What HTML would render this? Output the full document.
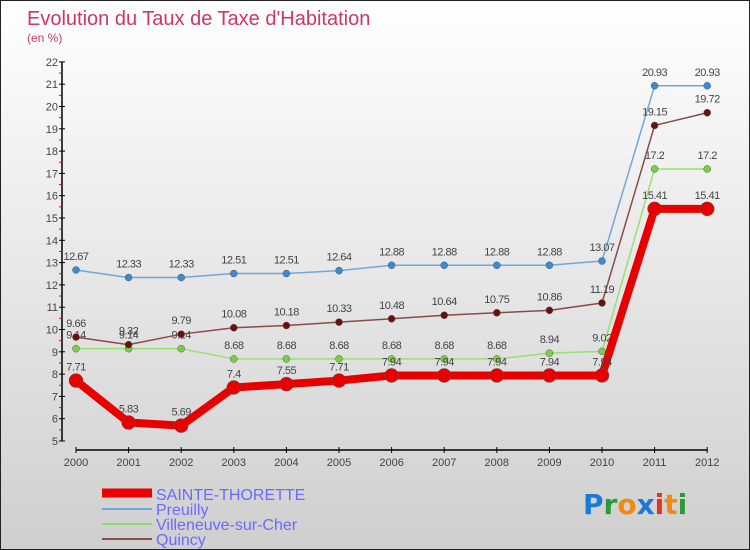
<!DOCTYPE html>
<html><head><meta charset="utf-8"><style>
body{margin:0}
#c{width:748px;height:548px;border:1px solid #222;background:linear-gradient(#fff,#cfcfcf);position:relative;font-family:"Liberation Sans",sans-serif;overflow:hidden}
</style></head><body>
<div id="c">
<svg id="s" width="748" height="548">
<text x="26" y="24" font-size="20" fill="#c8386a">Evolution du Taux de Taxe d'Habitation</text>
<text x="26" y="41" font-size="12" fill="#c8386a">(en %)</text>
<g id="axes"></g><g id="series"></g>
<g>
<line x1="101" y1="492" x2="151" y2="492" stroke="#e00" stroke-width="9"/>
<text x="155" y="499" font-size="16" fill="#6a6aff">SAINTE-THORETTE</text>
<line x1="101" y1="508" x2="151" y2="508" stroke="#6fa8d8" stroke-width="2"/>
<text x="155" y="514" font-size="16" fill="#6a6aff">Preuilly</text>
<line x1="101" y1="523" x2="151" y2="523" stroke="#8fd870" stroke-width="2"/>
<text x="155" y="529" font-size="16" fill="#6a6aff">Villeneuve-sur-Cher</text>
<line x1="101" y1="538" x2="151" y2="538" stroke="#8a5050" stroke-width="2"/>
<text x="155" y="544" font-size="16" fill="#6a6aff">Quincy</text>
</g>
<text x="582" y="513" font-size="28" font-weight="bold" font-family="'DejaVu Sans',sans-serif"><tspan fill="#1a7ad8">P</tspan><tspan fill="#2a9a3a">r</tspan><tspan fill="#f08a10">o</tspan><tspan fill="#1a7ad8">x</tspan><tspan fill="#e83020">i</tspan><tspan fill="#f08a10">t</tspan><tspan fill="#2a9a3a">i</tspan></text>
</svg>
</div>
<script>
const years=[2000,2001,2002,2003,2004,2005,2006,2007,2008,2009,2010,2011,2012];
const yTicks=[5,6,7,8,9,10,11,12,13,14,15,16,17,18,19,20,21,22];
const sainte=[7.71,5.83,5.69,7.4,7.55,7.71,7.94,7.94,7.94,7.94,7.94,15.41,15.41];
const preuilly=[12.67,12.33,12.33,12.51,12.51,12.64,12.88,12.88,12.88,12.88,13.07,20.93,20.93];
const villeneuve=[9.14,9.14,9.14,8.68,8.68,8.68,8.68,8.68,8.68,8.94,9.02,17.2,17.2];
const quincy=[9.66,9.32,9.79,10.08,10.18,10.33,10.48,10.64,10.75,10.86,11.19,19.15,19.72];
const NS="http://www.w3.org/2000/svg";
function X(i){return 75+i*52.6;}
function Y(v){return 440-(v-5)*22.3;}
function mk(t,a,p){const e=document.createElementNS(NS,t);for(const k in a)e.setAttribute(k,a[k]);p.appendChild(e);return e;}
const ax=document.getElementById('axes');
let e=mk('line',{x1:61,y1:Y(22),x2:61,y2:Y(5),stroke:'#000','stroke-width':1.5},ax);


e=mk('line',{x1:X(0),y1:449,x2:X(12),y2:449,stroke:'#000','stroke-width':1.5},ax);


yTicks.forEach(v=>{
 mk('line',{x1:58,y1:Y(v),x2:64,y2:Y(v),stroke:'#000'},ax);
 if(v<22)mk('line',{x1:58,y1:Y(v+0.5),x2:61,y2:Y(v+0.5),stroke:'#f00'},ax);
 const t=mk('text',{x:57,y:Y(v)+4,'font-size':11,fill:'#444','text-anchor':'end'},ax);t.textContent=v;
 
 
});
years.forEach((y,i)=>{
 mk('line',{x1:X(i),y1:446,x2:X(i),y2:452,stroke:'#000'},ax);
 const t=mk('text',{x:X(i),y:465,'font-size':11,fill:'#444','text-anchor':'middle'},ax);t.textContent=y;
 
 
});
const sg=document.getElementById('series');
function draw(vals,color,w,r,name,fill){
 const g=mk('g',{},sg);
 
 
 const l=mk('polyline',{points:vals.map((v,i)=>X(i)+','+Y(v)).join(' '),fill:'none',stroke:color,'stroke-width':w,'stroke-linejoin':'round'},g);
 
 
 vals.forEach((v,i)=>{
  const c=mk('circle',{cx:X(i),cy:Y(v),r:r,fill:fill,stroke:'#555','stroke-width':0.5},g);
  
  
  const t=mk('text',{x:X(i),y:Y(v)-10,'font-size':11,fill:'#444','text-anchor':'middle','letter-spacing':'-0.5'},g);
  t.textContent=v;
  
  
 });
}
draw(preuilly,'#6fa8d8',1.5,3.5,'preuilly','#3a8ad8');
draw(villeneuve,'#98e070',1.5,3.5,'villeneuve','#7ad040');
draw(quincy,'#8a4a4a',1.5,3.5,'quincy','#6a1010');
draw(sainte,'#e80000',8,7,'sainte-thorette','#e80000');
</script>
</body></html>
